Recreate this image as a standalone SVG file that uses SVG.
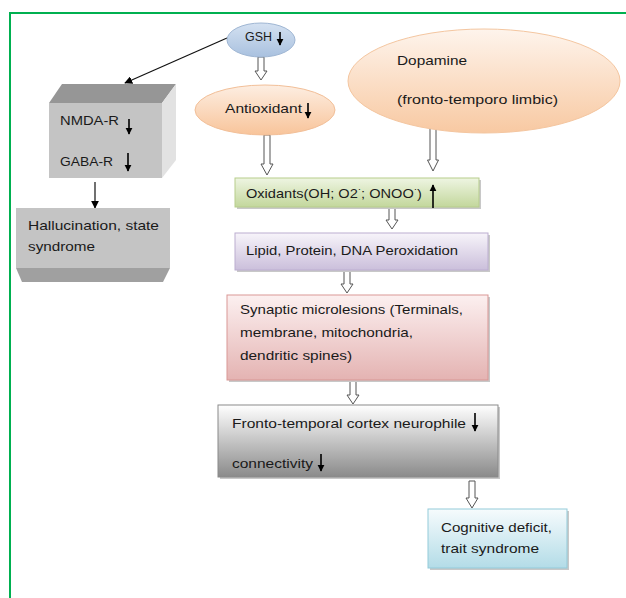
<svg xmlns="http://www.w3.org/2000/svg" width="626" height="598" viewBox="0 0 626 598">
<style>
text{font-family:"Liberation Sans",Arial,sans-serif;font-size:13px;fill:#1a1a1a}
.hol{fill:#fff;stroke:#555;stroke-width:1}
.thin{stroke:#111;stroke-width:1.2;fill:none}
.glyph{stroke:#000;stroke-width:1.6;fill:none}
.shadow{fill:#c8c8c8}
</style>
<defs>
<linearGradient id="gBlue" x1="0" y1="0" x2="0" y2="1"><stop offset="0" stop-color="#d4e1f1"/><stop offset="1" stop-color="#a9c1df"/></linearGradient>
<linearGradient id="gOrange" x1="0" y1="0" x2="0" y2="1"><stop offset="0" stop-color="#fdeee2"/><stop offset="1" stop-color="#f8c49a"/></linearGradient>
<linearGradient id="gDopa" x1="0" y1="0" x2="0" y2="1"><stop offset="0" stop-color="#fef4ec"/><stop offset="1" stop-color="#f8c9a2"/></linearGradient>
<linearGradient id="gGreen" x1="0" y1="0" x2="0" y2="1"><stop offset="0" stop-color="#eef5e2"/><stop offset="1" stop-color="#c3d79c"/></linearGradient>
<linearGradient id="gPurple" x1="0" y1="0" x2="0" y2="1"><stop offset="0" stop-color="#f7f4fa"/><stop offset="1" stop-color="#cbbfdb"/></linearGradient>
<linearGradient id="gPink" x1="0" y1="0" x2="0" y2="1"><stop offset="0" stop-color="#fcf0f0"/><stop offset="1" stop-color="#e4b3b2"/></linearGradient>
<linearGradient id="gGray" x1="0" y1="0" x2="0" y2="1"><stop offset="0" stop-color="#ffffff"/><stop offset="1" stop-color="#8a8a8a"/></linearGradient>
<linearGradient id="gCyan" x1="0" y1="0" x2="0" y2="1"><stop offset="0" stop-color="#f6fbfd"/><stop offset="1" stop-color="#b3dce7"/></linearGradient>
<marker id="ah" viewBox="0 0 10 10" refX="9" refY="5" markerWidth="8" markerHeight="8" markerUnits="userSpaceOnUse" orient="auto"><path d="M0,0 L10,5 L0,10 Z" fill="#000"/></marker>
<marker id="gh" viewBox="0 0 10 10" refX="9" refY="5" markerWidth="7" markerHeight="8" markerUnits="userSpaceOnUse" orient="auto"><path d="M0,0 L10,5 L0,10 Z" fill="#000"/></marker>
</defs>

<g id="frame">
<line x1="10" y1="13" x2="626" y2="13" stroke="#00b050" stroke-width="2"/>
<line x1="10" y1="12" x2="10" y2="598" stroke="#00b050" stroke-width="2"/>
</g>

<g id="connectors">
<line class="thin" x1="227" y1="38" x2="125" y2="83" marker-end="url(#ah)"/>
<line class="thin" x1="95" y1="182" x2="95" y2="208" marker-end="url(#ah)"/>
<path class="hol" d="M258,57 V71 H255 L261,80 L267,71 H264 V57 Z"/>
<path class="hol" d="M264,135 V164 H261 L267,175 L273,164 H270 V135 Z"/>
<path class="hol" d="M430,125 V160 H427.5 L433,171 L438.5,160 H436 V125 Z"/>
<path class="hol" d="M389,207 V220 H386 L392,229 L398,220 H395 V207 Z"/>
<path class="hol" d="M344,270 V284 H341 L347,293 L353,284 H350 V270 Z"/>
<path class="hol" d="M350,380 V395 H347 L353,404 L359,395 H356 V380 Z"/>
<path class="hol" d="M469,481 V498 H466 L472,508 L478,498 H475 V481 Z"/>
</g>

<g id="gsh">
<ellipse cx="261" cy="40" rx="34" ry="17" fill="url(#gBlue)" stroke="#9fb6d3"/>
<text x="245" y="41" textLength="27" lengthAdjust="spacingAndGlyphs">GSH</text>
<line class="glyph" x1="280" y1="32" x2="280" y2="45" marker-end="url(#gh)"/>
</g>

<g id="antioxidant">
<ellipse cx="265" cy="110" rx="70" ry="25" fill="url(#gOrange)" stroke="#f2bf98"/>
<text x="225" y="113" textLength="77" lengthAdjust="spacingAndGlyphs">Antioxidant</text>
<line class="glyph" x1="308" y1="103" x2="308" y2="118" marker-end="url(#gh)"/>
</g>

<g id="dopamine">
<ellipse cx="484" cy="81" rx="136" ry="52" fill="url(#gDopa)" stroke="#f4c6a0"/>
<text x="397" y="65" textLength="70" lengthAdjust="spacingAndGlyphs">Dopamine</text>
<text x="397" y="104" textLength="161" lengthAdjust="spacingAndGlyphs">(fronto-temporo limbic)</text>
</g>

<g id="receptors">
<polygon points="49,103 62,84 176,84 162,103" fill="#969696"/>
<polygon points="162,103 176,84 176,160 162,178" fill="#e2e2e2"/>
<rect x="49" y="103" width="113" height="75" fill="#c4c4c4"/>
<text x="60" y="125" textLength="59" lengthAdjust="spacingAndGlyphs">NMDA-R</text>
<line class="glyph" x1="129" y1="119" x2="129" y2="134" marker-end="url(#gh)"/>
<text x="60" y="166" textLength="53" lengthAdjust="spacingAndGlyphs">GABA-R</text>
<line class="glyph" x1="128" y1="153" x2="128" y2="171" marker-end="url(#gh)"/>
</g>

<g id="hallucination">
<rect x="16" y="208" width="154" height="60" fill="#c4c4c4"/>
<polygon points="16,268 170,268 163,282 22,282" fill="#a0a0a0"/>
<text x="28" y="230" textLength="131" lengthAdjust="spacingAndGlyphs">Hallucination, state</text>
<text x="28" y="251" textLength="67" lengthAdjust="spacingAndGlyphs">syndrome</text>
</g>

<g id="oxidants">
<rect class="shadow" x="237" y="180" width="244" height="29"/>
<rect x="235" y="178" width="244" height="29" fill="url(#gGreen)" stroke="#b7cd8c"/>
<text x="246" y="198" font-size="13" textLength="176" lengthAdjust="spacingAndGlyphs">Oxidants(OH; O2<tspan dy="-6" font-size="9">·</tspan><tspan dy="6">; ONOO</tspan><tspan dy="-6" font-size="9">·</tspan><tspan dy="6">)</tspan></text>
<line class="glyph" x1="433" y1="208" x2="433" y2="185" marker-end="url(#gh)"/>
</g>

<g id="lipid">
<rect class="shadow" x="237" y="235" width="253" height="37"/>
<rect x="235" y="233" width="253" height="37" fill="url(#gPurple)" stroke="#bcaed0"/>
<text x="246" y="255" textLength="212" lengthAdjust="spacingAndGlyphs">Lipid, Protein, DNA Peroxidation</text>
</g>

<g id="synaptic">
<rect class="shadow" x="229" y="297" width="261" height="85"/>
<rect x="227" y="295" width="261" height="85" fill="url(#gPink)" stroke="#d99795"/>
<text x="240" y="314" textLength="223" lengthAdjust="spacingAndGlyphs">Synaptic microlesions (Terminals,</text>
<text x="240" y="337" textLength="173" lengthAdjust="spacingAndGlyphs">membrane, mitochondria,</text>
<text x="240" y="360" textLength="112" lengthAdjust="spacingAndGlyphs">dendritic spines)</text>
</g>

<g id="fronto">
<rect class="shadow" x="220" y="407" width="280" height="72"/>
<rect x="218" y="405" width="280" height="72" fill="url(#gGray)" stroke="#8a8a8a"/>
<text x="232" y="428" textLength="234" lengthAdjust="spacingAndGlyphs">Fronto-temporal cortex neurophile</text>
<line class="glyph" x1="475" y1="413" x2="475" y2="431" marker-end="url(#gh)"/>
<text x="232" y="468" textLength="81" lengthAdjust="spacingAndGlyphs">connectivity</text>
<line class="glyph" x1="321" y1="454" x2="321" y2="471" marker-end="url(#gh)"/>
</g>

<g id="cognitive">
<rect class="shadow" x="430" y="511" width="139" height="59"/>
<rect x="428" y="509" width="139" height="59" fill="url(#gCyan)" stroke="#93cbda"/>
<text x="441" y="532" textLength="111" lengthAdjust="spacingAndGlyphs">Cognitive deficit,</text>
<text x="441" y="553" textLength="98" lengthAdjust="spacingAndGlyphs">trait syndrome</text>
</g>
</svg>
